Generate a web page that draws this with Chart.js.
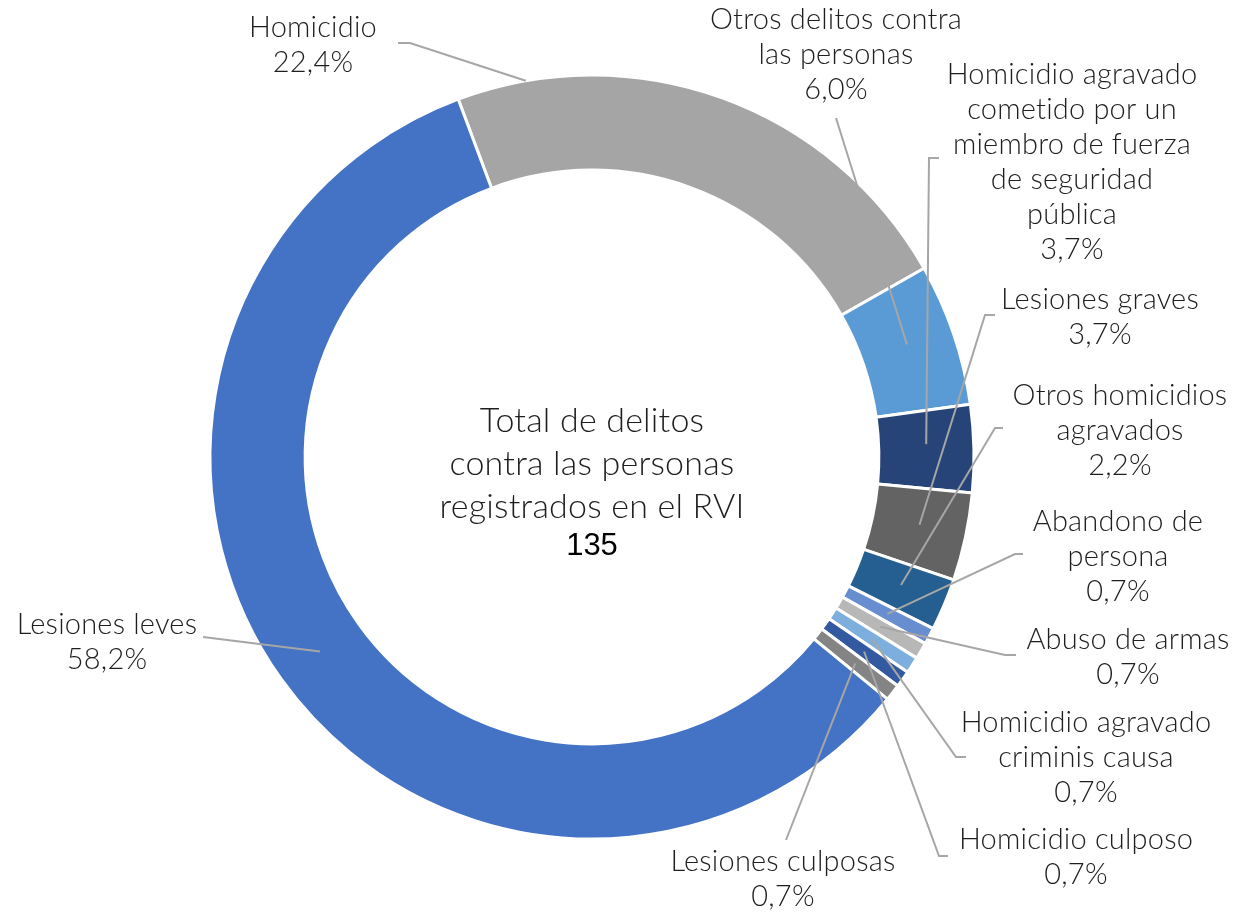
<!DOCTYPE html>
<html>
<head>
<meta charset="utf-8">
<script src="https://cdn.jsdelivr.net/npm/chart.js@4.4.0/dist/chart.umd.min.js"></script>
<style>
  html, body { margin: 0; background: #fff; }
  #wrap { width: 1246px; height: 914px; }
</style>
</head>
<body>
<div id="wrap"><canvas id="c" width="1246" height="914"></canvas></div>
<script>
  // ── data (orden horario, empezando por Homicidio) ──────────
  const categories = [
    ['Homicidio'],
    ['Otros delitos contra', 'las personas'],
    ['Homicidio agravado', 'cometido por un', 'miembro de fuerza', 'de seguridad', 'pública'],
    ['Lesiones graves'],
    ['Otros homicidios', 'agravados'],
    ['Abandono de', 'persona'],
    ['Abuso de armas'],
    ['Homicidio agravado', 'criminis causa'],
    ['Homicidio culposo'],
    ['Lesiones culposas'],
    ['Lesiones leves'],
  ];
  const shares = [22.4, 6.0, 3.7, 3.7, 2.2, 0.7, 0.7, 0.7, 0.7, 0.7, 58.2];
  const sliceColors = ['#A5A5A5', '#5B9BD5', '#264478', '#636363', '#255E91', '#698ED0',
                       '#B7B7B7', '#7CAFDD', '#335AA1', '#848484', '#4472C4'];
  const totalCount = 135;
  const centerLines = ['Total de delitos', 'contra las personas', 'registrados en el RVI'];

  // posición de etiquetas: centro x, y de la primera línea, tramo de la guía,
  // y punto de anclaje dentro del sector (fracción de ángulo, fracción de anillo)
  const labelLayout = [
    { x: 313,  y: 28,  lead: [[398, 43], [410, 43]],   at: [0.13, 1.0] },
    { x: 836,  y: 20,  lead: [[836, 118]],             at: [0.46, 0.5] },
    { x: 1072, y: 75,  lead: [[939, 158], [929, 158]], at: [0.43, 0.5] },
    { x: 1100, y: 300, lead: [[995, 315], [985, 315]], at: [0.47, 0.5] },
    { x: 1120, y: 396, lead: [[1003, 428], [995, 428]], at: [0.47, 0.5] },
    { x: 1118, y: 522, lead: [[1023, 554], [1015, 554]], at: [0.5, 0.5] },
    { x: 1128, y: 640, lead: [[1016, 655], [1005, 655]], at: [0.5, 0.5] },
    { x: 1086, y: 723, lead: [[966, 757], [956, 757]], at: [0.5, 0.5] },
    { x: 1076, y: 840, lead: [[948, 856], [939, 856]], at: [0.5, 0.5] },
    { x: 783,  y: 862, lead: [[786, 840]],             at: [0.5, 0.5] },
    { x: 107,  y: 625, lead: [[203, 637]],             at: [0.5, 0.5] },
  ];

  const LABEL_FONT = '300 29px Lato, "Open Sans", sans-serif';
  const LINE_H = 35;
  const TEXT_COLOR = '#1e1e1e';
  const LEAD_COLOR = '#A6A6A6';

  function pct(v) { return v.toFixed(1).replace('.', ',') + '%'; }

  const callouts = {
    id: 'callouts',
    afterDatasetsDraw(chart) {
      const ctx = chart.ctx;
      const meta = chart.getDatasetMeta(0);
      ctx.save();
      ctx.letterSpacing = '0.2px'; // evita la ligadura "ti" de Lato
      meta.data.forEach((arc, i) => {
        const p = arc.getProps(['x', 'y', 'startAngle', 'endAngle', 'innerRadius', 'outerRadius'], true);
        const L = labelLayout[i];
        const a = p.startAngle + (p.endAngle - p.startAngle) * L.at[0];
        const r = p.innerRadius + (p.outerRadius - p.innerRadius) * L.at[1];
        const ax = p.x + Math.cos(a) * r, ay = p.y + Math.sin(a) * r;

        ctx.strokeStyle = LEAD_COLOR;
        ctx.lineWidth = 2;
        ctx.beginPath();
        ctx.moveTo(L.lead[0][0], L.lead[0][1]);
        for (let k = 1; k < L.lead.length; k++) ctx.lineTo(L.lead[k][0], L.lead[k][1]);
        ctx.lineTo(ax, ay);
        ctx.stroke();

        ctx.fillStyle = TEXT_COLOR;
        ctx.font = LABEL_FONT;
        ctx.textAlign = 'center';
        ctx.textBaseline = 'middle';
        const lines = categories[i].concat([pct(shares[i])]);
        lines.forEach((s, k) => ctx.fillText(s, L.x, L.y + k * LINE_H));
      });

      // texto central
      const c = meta.data[0];
      ctx.fillStyle = '#1e1e1e';
      ctx.textAlign = 'center';
      ctx.textBaseline = 'middle';
      ctx.font = '300 34px Lato, "Open Sans", sans-serif';
      centerLines.forEach((s, k) => ctx.fillText(s, c.x, 421 + k * 43));
      ctx.letterSpacing = '0px';
      ctx.fillStyle = '#000';
      ctx.font = '31px "Liberation Sans", Arial, sans-serif';
      ctx.fillText(String(totalCount), c.x, 546);
      ctx.restore();
    }
  };

  new Chart(document.getElementById('c'), {
    type: 'doughnut',
    data: {
      labels: categories,
      datasets: [{
        data: shares,
        backgroundColor: sliceColors,
        borderColor: '#ffffff',
        borderWidth: 3,
        hoverOffset: 0,
      }],
    },
    options: {
      responsive: false,
      animation: false,
      rotation: -20.5,
      radius: 382,
      cutout: '75.1%',
      layout: { padding: { left: 0, right: 62, top: 0, bottom: 0 } },
      plugins: { legend: { display: false }, tooltip: { enabled: false } },
    },
    plugins: [callouts],
  });
</script>
</body>
</html>
